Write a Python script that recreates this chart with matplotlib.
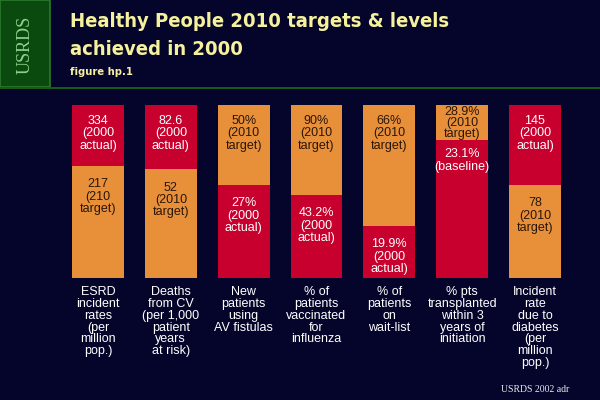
import numpy as np
import matplotlib
matplotlib.use("Agg")
import matplotlib.pyplot as plt
from matplotlib.patches import Rectangle

# data
categories = ["ESRD\nincident\nrates\n(per\nmillion\npop.)",
              "Deaths\nfrom CV\n(per 1,000\npatient\nyears\nat risk)",
              "New\npatients\nusing\nAV fistulas",
              "% of\npatients\nvaccinated\nfor\ninfluenza",
              "% of\npatients\non\nwait-list",
              "% pts\ntransplanted\nwithin 3\nyears of\ninitiation",
              "Incident\nrate\ndue to\ndiabetes\n(per\nmillion\npop.)"]
lower_vals = [217, 52, 27, 43.2, 19.9, 23.1, 78]
upper_vals = [334, 82.6, 50, 90, 66, 28.9, 145]
lower_text = ["217\n(210\ntarget)", "52\n(2010\ntarget)", "27%\n(2000\nactual)",
              "43.2%\n(2000\nactual)", "19.9%\n(2000\nactual)", "23.1%\n(baseline)",
              "78\n(2010\ntarget)"]
upper_text = ["334\n(2000\nactual)", "82.6\n(2000\nactual)", "50%\n(2010\ntarget)",
              "90%\n(2010\ntarget)", "66%\n(2010\ntarget)", "28.9%\n(2010\ntarget)",
              "145\n(2000\nactual)"]
lower_is_target = [True, True, False, False, False, False, True]

bg = "#05052b"
orange = "#e88f3a"
red = "#c8002d"
yellow = "#f6f19c"

fig = plt.figure(figsize=(6, 4), dpi=100, facecolor=bg)

# green USRDS box and rule line
fig.patches.append(Rectangle((0, 1 - 87/400), 50/600, 87/400, transform=fig.transFigure,
                             facecolor="#0b4a0e", edgecolor="#2c7a2c", lw=1.2))
fig.patches.append(Rectangle((0, 1 - 89/400), 1, 2/400, transform=fig.transFigure,
                             facecolor="#165a18", edgecolor="none"))
fig.text(25/600, 1 - 45/400, "USRDS", rotation=90, ha="center", va="center",
         color="#8fd08a", fontsize=13, family="Liberation Serif")

title_font = ["DejaVu Sans"]
fig.text(70/600, 1 - 27/400, "Healthy People 2010 targets & levels", ha="left",
         va="baseline", color=yellow, fontsize=14.5, fontweight="bold",
         fontstretch="condensed", family=title_font)
fig.text(70/600, 1 - 55/400, "achieved in 2000", ha="left", va="baseline",
         color=yellow, fontsize=14.5, fontweight="bold", fontstretch="condensed",
         family=title_font)
fig.text(70/600, 1 - 75/400, "figure hp.1", ha="left", va="baseline",
         color=yellow, fontsize=8, fontweight="bold", fontstretch="condensed",
         family=title_font)
fig.text(569/600, 1 - 392/400, "USRDS 2002 adr", ha="right", va="baseline",
         color="#e8e8f0", fontsize=7, family="Liberation Serif")

ax = fig.add_axes([61.6/600, 1 - 278/400, 509.8/600, 173/400])
ax.set_facecolor(bg)
ax.set_xlim(-0.5, 6.5)
ax.set_ylim(0, 1)
ax.axis("off")

x = np.arange(len(categories))
frac = np.array(lower_vals) / np.array(upper_vals)
low_col = [orange if t else red for t in lower_is_target]
up_col = [red if t else orange for t in lower_is_target]
ax.bar(x, frac, width=0.714, color=low_col, edgecolor="none")
ax.bar(x, 1 - frac, bottom=frac, width=0.714, color=up_col, edgecolor="none")

lab_font = ["Liberation Sans", "DejaVu Sans"]
for i in range(len(x)):
    tc_up = "white" if lower_is_target[i] else "#2a1608"
    tc_low = "#2a1608" if lower_is_target[i] else "white"
    # the thin top segment of the transplant bar needs its text packed tighter
    thin = (1 - frac[i]) < 0.25
    ax.annotate(upper_text[i], (x[i], 1), xytext=(0, -0.5 if thin else -7),
                textcoords="offset points", ha="center", va="top", fontsize=9,
                color=tc_up, family=lab_font, linespacing=0.88 if thin else 1.05)
    ax.annotate(lower_text[i], (x[i], frac[i]), xytext=(0, -6 if thin else -9),
                textcoords="offset points", ha="center", va="top", fontsize=9,
                color=tc_low, family=lab_font, linespacing=1.05)
    ax.annotate(categories[i], (x[i], 0), xytext=(0, -6), textcoords="offset points",
                ha="center", va="top", fontsize=9, color="white", family=lab_font,
                linespacing=0.97, annotation_clip=False)

fig.savefig("out.png", dpi=100, facecolor=bg)
